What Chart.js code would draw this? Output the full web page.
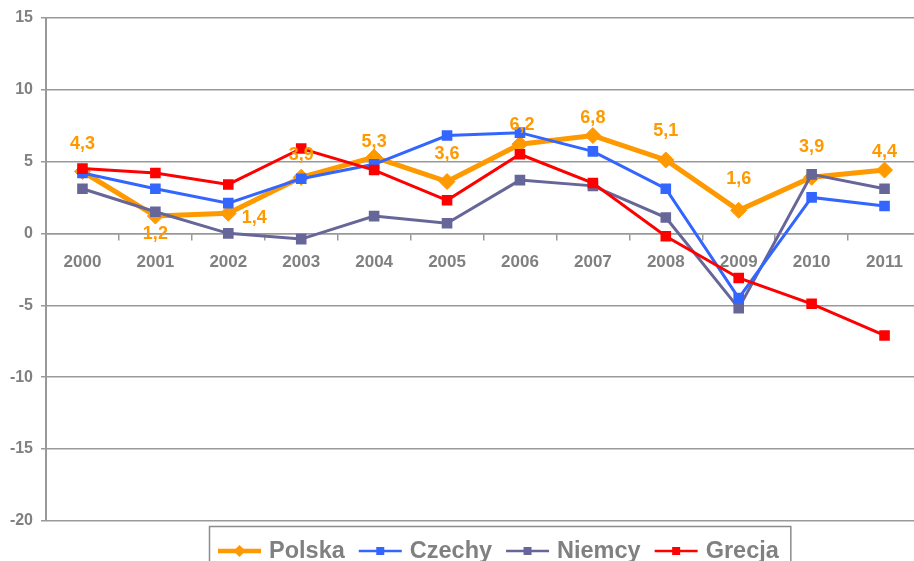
<!DOCTYPE html>
<html>
<head>
<meta charset="utf-8">
<title>PKB</title>
<script src="https://cdn.jsdelivr.net/npm/chart.js@4.4.1/dist/chart.umd.min.js"></script>
<style>
  html, body { margin: 0; padding: 0; background: #fff; overflow: hidden; }
  #wrap { position: relative; width: 930px; height: 561px; }
</style>
</head>
<body>
<div id="wrap"><canvas id="gdpChart"></canvas></div>
<script>
// Data
const years = ['2000', '2001', '2002', '2003', '2004', '2005', '2006', '2007', '2008', '2009', '2010', '2011'];
const polska = [4.3, 1.2, 1.4, 3.9, 5.3, 3.6, 6.2, 6.8, 5.1, 1.6, 3.9, 4.4];
const czechy = [4.2, 3.1, 2.1, 3.8, 4.8, 6.8, 7.0, 5.7, 3.1, -4.5, 2.5, 1.9];
const niemcy = [3.1, 1.5, 0.0, -0.4, 1.2, 0.7, 3.7, 3.3, 1.1, -5.2, 4.1, 3.1];
const grecja = [4.5, 4.2, 3.4, 5.9, 4.4, 2.3, 5.5, 3.5, -0.2, -3.1, -4.9, -7.1];
const yTicks = [15, 10, 5, 0, -5, -10, -15, -20];

const FONT = '"Liberation Sans", Arial, sans-serif';
const GRAY = '#808080';
const GRID = '#999999';

// value labels for Polska (Excel style, hand placed)
const valueLabels = {
    id: 'valueLabels',
    afterDatasetsDraw(chart, args, opts) {
        const meta = chart.getDatasetMeta(0);
        const ctx = chart.ctx;
        ctx.save();
        ctx.font = 'bold 18px ' + FONT;
        ctx.fillStyle = '#FF9900';
        ctx.textAlign = 'center';
        ctx.textBaseline = 'middle';
        meta.data.forEach((pt, i) => {
            const txt = polska[i].toFixed(1).replace('.', ',');
            const off = opts.offsets[i] || [0, -24];
            ctx.fillText(txt, pt.x + off[0], pt.y + off[1]);
        });
        ctx.restore();
    }
};

// boxed legend at the bottom
const boxLegend = {
    id: 'boxLegend',
    afterDraw(chart) {
        const ctx = chart.ctx;
        const y = 551;
        let x = 218;
        ctx.save();
        ctx.font = 'bold 23.5px ' + FONT;
        ctx.textBaseline = 'middle';
        ctx.textAlign = 'left';
        chart.data.datasets.forEach(ds => {
            ctx.strokeStyle = ds.borderColor;
            ctx.lineWidth = ds.pointStyle === 'rectRot' ? 4.5 : 2.5;
            ctx.beginPath();
            ctx.moveTo(x, y);
            ctx.lineTo(x + 43, y);
            ctx.stroke();
            ctx.fillStyle = ds.borderColor;
            ctx.beginPath();
            if (ds.pointStyle === 'rectRot') {
                ctx.moveTo(x + 21.5, y - 6);
                ctx.lineTo(x + 27.5, y);
                ctx.lineTo(x + 21.5, y + 6);
                ctx.lineTo(x + 15.5, y);
                ctx.closePath();
            } else {
                ctx.rect(x + 17.5, y - 4, 8, 8);
            }
            ctx.fill();
            x += 51;
            ctx.fillStyle = GRAY;
            ctx.fillText(ds.label, x, y + 1);
            x += ctx.measureText(ds.label).width + 14;
        });
        ctx.strokeStyle = '#8c8c8c';
        ctx.lineWidth = 1.5;
        ctx.strokeRect(209.5, 526.5, x - 209.5 - 2, 45);
        ctx.restore();
    }
};

const ctx = document.getElementById('gdpChart');

new Chart(ctx, {
    type: 'line',
    data: {
        labels: years,
        datasets: [
            {
                label: 'Polska',
                data: polska,
                borderColor: '#FF9900',
                backgroundColor: '#FF9900',
                borderWidth: 5,
                pointStyle: 'rectRot',
                pointRadius: 8,
                pointBorderWidth: 1,
                order: 4
            },
            {
                label: 'Czechy',
                data: czechy,
                borderColor: '#3366FF',
                backgroundColor: '#3366FF',
                borderWidth: 3,
                pointStyle: 'rect',
                pointRadius: 7.5,
                pointBorderWidth: 0,
                order: 2
            },
            {
                label: 'Niemcy',
                data: niemcy,
                borderColor: '#666699',
                backgroundColor: '#666699',
                borderWidth: 3,
                pointStyle: 'rect',
                pointRadius: 7.5,
                pointBorderWidth: 0,
                order: 3
            },
            {
                label: 'Grecja',
                data: grecja,
                borderColor: '#FF0000',
                backgroundColor: '#FF0000',
                borderWidth: 3,
                pointStyle: 'rect',
                pointRadius: 7.5,
                pointBorderWidth: 0,
                order: 1
            }
        ]
    },
    options: {
        responsive: true,
        maintainAspectRatio: false,
        animation: false,
        layout: {
            padding: { top: 17, right: 9, bottom: 40, left: 0 }
        },
        scales: {
            x: {
                position: { y: 0 },
                offset: true,
                grid: {
                    offset: true,
                    drawOnChartArea: false,
                    drawTicks: true,
                    tickLength: 6,
                    color: GRID,
                    lineWidth: 1.5
                },
                border: { display: true, color: GRID, width: 1.5 },
                ticks: {
                    color: GRAY,
                    padding: 13,
                    maxRotation: 0,
                    font: { family: FONT, size: 17, weight: 'bold' }
                }
            },
            y: {
                min: -20,
                max: 15,
                afterBuildTicks: s => {
                    s.ticks = yTicks.slice().sort((a, b) => a - b).map(v => ({ value: v }));
                },
                afterFit: s => { s.width = 46; },
                grid: {
                    color: GRID,
                    lineWidth: 1.5,
                    tickLength: 5
                },
                border: { display: true, color: GRID, width: 2 },
                ticks: {
                    color: GRAY,
                    padding: 8,
                    font: { family: FONT, size: 16, weight: 'bold' },
                    callback: v => String(v)
                }
            }
        },
        plugins: {
            legend: { display: false },
            tooltip: { enabled: false },
            valueLabels: {
                offsets: {
                    0: [0, -27], 1: [0, 18], 2: [26, 5], 3: [0, -22], 4: [0, -15], 5: [0, -28],
                    6: [2, -19], 7: [0, -18], 8: [0, -29], 9: [0, -31], 10: [0, -30], 11: [0, -18]
                }
            }
        }
    },
    plugins: [valueLabels, boxLegend]
});
</script>
</body>
</html>
